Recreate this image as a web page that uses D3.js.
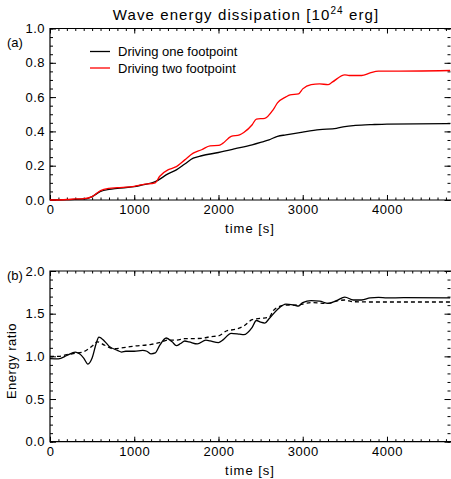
<!DOCTYPE html>
<html>
<head>
<meta charset="utf-8">
<script src="https://cdn.jsdelivr.net/npm/d3@7"></script>
<style>
  body { margin: 0; background: #fff; }
  svg text { font-family: "Liberation Sans", "DejaVu Sans", sans-serif; fill: #000; }
</style>
</head>
<body>
<div id="chart"></div>
<script>
// panel (a): dissipated energy, 10^24 erg
const timeOne = [0, 200, 400, 450, 500, 600, 700, 800, 1000, 1100, 1200, 1250, 1400, 1500, 1600, 1700, 1800, 2000, 2200, 2400, 2500, 2600, 2700, 2800, 3000, 3200, 3400, 3500, 3600, 3800, 4000, 4750];
const energyOne = [0.0, 0.002, 0.006, 0.01, 0.02, 0.05, 0.062, 0.068, 0.078, 0.088, 0.098, 0.107, 0.152, 0.176, 0.21, 0.244, 0.258, 0.277, 0.299, 0.322, 0.336, 0.351, 0.371, 0.38, 0.396, 0.41, 0.418, 0.428, 0.434, 0.439, 0.443, 0.445];

const timeTwo = [0, 200, 300, 400, 500, 600, 700, 800, 1000, 1100, 1250, 1300, 1400, 1450, 1500, 1600, 1700, 1800, 1900, 2000, 2050, 2150, 2250, 2300, 2400, 2450, 2550, 2650, 2700, 2800, 2850, 2950, 3000, 3100, 3200, 3300, 3350, 3500, 3550, 3700, 3800, 3900, 4000, 4750];
const energyTwo = [0.0, 0.003, 0.006, 0.008, 0.02, 0.055, 0.068, 0.072, 0.08, 0.09, 0.1, 0.137, 0.176, 0.185, 0.195, 0.234, 0.273, 0.293, 0.316, 0.318, 0.33, 0.371, 0.38, 0.394, 0.439, 0.472, 0.476, 0.527, 0.566, 0.601, 0.613, 0.619, 0.648, 0.673, 0.677, 0.673, 0.687, 0.73, 0.726, 0.726, 0.741, 0.751, 0.751, 0.755];

// panel (b): energy ratio
const timeRatio = [0, 100, 200, 300, 350, 400, 450, 500, 550, 580, 650, 700, 800, 850, 900, 1000, 1100, 1150, 1200, 1250, 1300, 1380, 1450, 1500, 1550, 1600, 1650, 1750, 1850, 1900, 2000, 2050, 2150, 2250, 2300, 2400, 2450, 2500, 2550, 2600, 2700, 2800, 2900, 2950, 3000, 3100, 3200, 3300, 3400, 3500, 3600, 3700, 3800, 3900, 4000, 4200, 4750];
const ratioSolid = [0.973, 0.97, 1.01, 1.05, 1.03, 0.98, 0.91, 0.98, 1.156, 1.226, 1.175, 1.12, 1.07, 1.05, 1.06, 1.06, 1.07, 1.06, 1.03, 1.04, 1.125, 1.215, 1.17, 1.125, 1.15, 1.18, 1.17, 1.145, 1.19, 1.18, 1.16, 1.19, 1.27, 1.26, 1.254, 1.34, 1.42, 1.40, 1.39, 1.44, 1.55, 1.613, 1.60, 1.59, 1.629, 1.652, 1.648, 1.62, 1.652, 1.695, 1.66, 1.66, 1.684, 1.69, 1.684, 1.688, 1.684];

const timeSmooth = [0, 100, 200, 300, 400, 500, 560, 650, 750, 900, 1000, 1200, 1300, 1400, 1500, 1600, 1800, 1900, 2000, 2100, 2200, 2300, 2400, 2500, 2600, 2650, 2700, 2800, 2900, 3000, 3100, 3300, 3400, 3500, 3600, 3800, 4750];
const ratioSmooth = [1.0, 1.0, 1.02, 1.035, 1.055, 1.12, 1.17, 1.13, 1.09, 1.105, 1.12, 1.14, 1.16, 1.19, 1.19, 1.207, 1.21, 1.23, 1.24, 1.30, 1.316, 1.355, 1.43, 1.445, 1.457, 1.535, 1.574, 1.60, 1.60, 1.613, 1.63, 1.62, 1.648, 1.66, 1.64, 1.637, 1.637];

const xTicks = [0, 1000, 2000, 3000, 4000];
const legendLabels = ["Driving one footpoint", "Driving two footpoint"];
const legendColors = ["#000", "#f00"];

const width = 451, height = 479;
const left = 50, right = 451;

const svg = d3.select("#chart").append("svg")
    .attr("width", width)
    .attr("height", height);

const x = d3.scaleLinear().domain([0, 4760]).range([left, right]);
const xMinor = d3.range(0, 4751, 100);

// IDL style box: ticks inside on all four sides, labels left and bottom
function drawFrame(y, yMajor, yMinor, top, bottom) {
    const g = svg.append("g");

    const axes = [
        [d3.axisBottom(x), `translate(0,${bottom})`, true, xTicks, xMinor, 5, 2.5],
        [d3.axisTop(x), `translate(0,${top})`, false, xTicks, xMinor, 5, 2.5],
        [d3.axisLeft(y), `translate(${left},0)`, true, yMajor, yMinor, 6, 3],
        [d3.axisRight(y), `translate(${right - 0.5},0)`, false, yMajor, yMinor, 6, 3]
    ];
    axes.forEach(([ax, tr, labels, majorVals, minorVals, major, minor]) => {
        g.append("g").attr("transform", tr)
            .call(ax.tickValues(minorVals).tickSize(-minor).tickFormat(""))
            .call(a => a.select(".domain").remove());
        const a = g.append("g").attr("transform", tr)
            .call(ax.tickValues(majorVals).tickSize(-major).tickPadding(5)
                .tickFormat(labels ? (majorVals === xTicks ? d3.format("d") : d3.format(".1f")) : ""));
        a.select(".domain").remove();
        a.selectAll("text").style("font-size", "13px").style("letter-spacing", "0.5px").attr("fill", "#000");
    });
    g.selectAll(".tick line").attr("stroke", "#000").attr("stroke-width", 1);

    // left, bottom and top edges of the box
    g.append("path")
        .attr("d", `M${right},${top}H${left}V${bottom}H${right}`)
        .attr("fill", "none").attr("stroke", "#000").attr("stroke-width", 1.2);

    g.append("text")
        .attr("x", 250).attr("y", bottom + 33)
        .attr("text-anchor", "middle")
        .style("font-size", "13px")
        .style("letter-spacing", "1px")
        .text("time [s]");
}

const line = (y) => d3.line().x(d => x(d[0])).y(d => y(d[1])).curve(d3.curveMonotoneX);

// ---- panel (a)
const yA = d3.scaleLinear().domain([0, 1]).range([200, 28.5]);
drawFrame(yA, d3.range(0, 1.01, 0.2), d3.range(0, 1.001, 0.05), 28.5, 200);

svg.append("path")
    .datum(d3.zip(timeOne, energyOne))
    .attr("fill", "none").attr("stroke", legendColors[0]).attr("stroke-width", 1.3)
    .attr("d", line(yA));
svg.append("path")
    .datum(d3.zip(timeTwo, energyTwo))
    .attr("fill", "none").attr("stroke", legendColors[1]).attr("stroke-width", 1.3)
    .attr("d", line(yA));

const title = svg.append("text")
    .attr("x", 246).attr("y", 20)
    .attr("text-anchor", "middle")
    .style("font-size", "15px")
    .style("letter-spacing", "1.1px");
title.append("tspan").text("Wave energy dissipation [10");
title.append("tspan").attr("dy", -6).style("font-size", "10px").text("24");
title.append("tspan").attr("dy", 6).text(" erg]");

svg.append("text").attr("x", 7).attr("y", 47).style("font-size", "13px").text("(a)");

const legend = svg.append("g");
legendLabels.forEach((lab, i) => {
    const yy = 51.5 + i * 16.5;
    legend.append("line")
        .attr("x1", 90).attr("x2", 110).attr("y1", yy).attr("y2", yy)
        .attr("stroke", legendColors[i]).attr("stroke-width", 1.3);
    legend.append("text")
        .attr("x", 118).attr("y", yy + 4.5)
        .style("font-size", "13px")
        .text(lab);
});

// ---- panel (b)
const yB = d3.scaleLinear().domain([0, 2]).range([441.7, 271]);
drawFrame(yB, d3.range(0, 2.01, 0.5), d3.range(0, 2.001, 0.1), 271, 441.7);

svg.append("path")
    .datum(d3.zip(timeRatio, ratioSolid))
    .attr("fill", "none").attr("stroke", "#000").attr("stroke-width", 1.3)
    .attr("d", line(yB));
svg.append("path")
    .datum(d3.zip(timeSmooth, ratioSmooth))
    .attr("fill", "none").attr("stroke", "#000").attr("stroke-width", 1.3)
    .attr("stroke-dasharray", "4,3")
    .attr("d", line(yB));

svg.append("text").attr("x", 7).attr("y", 280).style("font-size", "13px").text("(b)");

svg.append("text")
    .attr("transform", "translate(16,361) rotate(-90)")
    .attr("text-anchor", "middle")
    .style("font-size", "13px")
    .style("letter-spacing", "0.5px")
    .text("Energy ratio");
</script>
</body>
</html>
